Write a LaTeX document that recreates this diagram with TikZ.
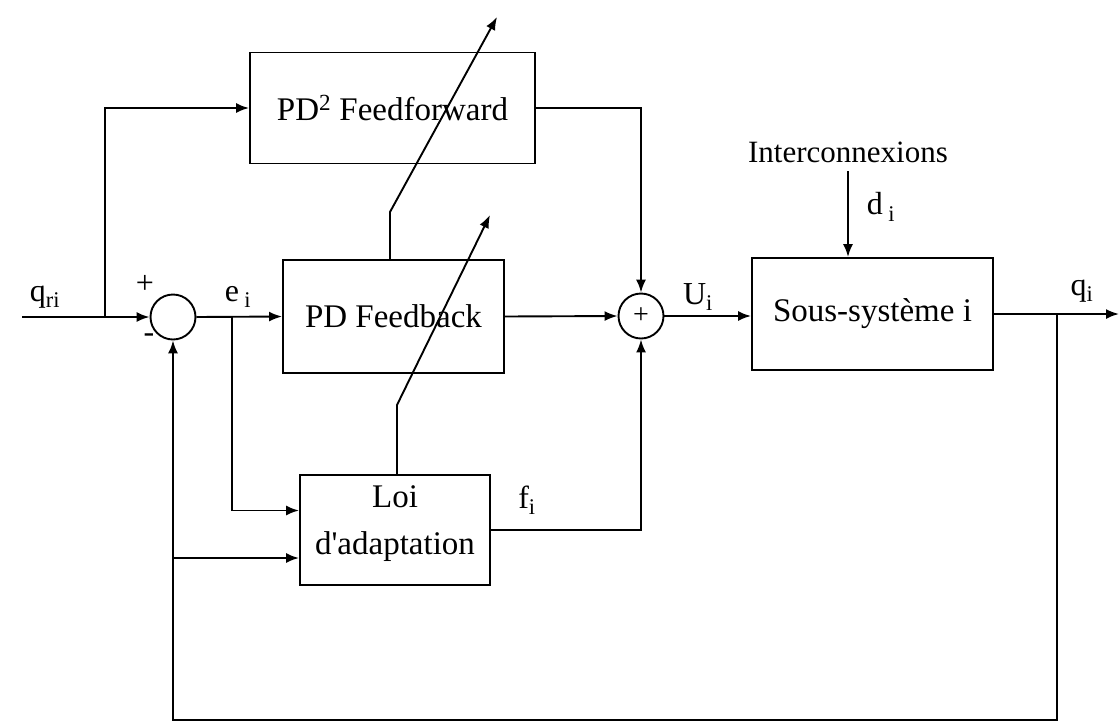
\documentclass[tikz,border=0pt]{standalone}
\usepackage{fontspec}
\setmainfont{Liberation Serif}
\usetikzlibrary{arrows.meta}
\begin{document}
\begin{tikzpicture}[x=1pt,y=-1pt, line width=1.9pt,
  >={Latex[length=13pt,width=10pt]},
  blk/.style={draw, rectangle, inner sep=0pt, font=\fontsize{33}{47}\selectfont, align=center},
  sumc/.style={draw, circle, minimum size=45pt, inner sep=0pt, font=\fontsize{28}{30}\selectfont},
  lbl/.style={font=\fontsize{32}{38}\selectfont, inner sep=0pt}]
\useasboundingbox (0,0) rectangle (1119,724);

% blocks
\node[blk, minimum width=285pt, minimum height=111pt] (ff) at (392.5,108) {PD\textsuperscript{2} Feedforward};
\node[blk, minimum width=221pt, minimum height=113pt] (fb) at (393.5,316.5) {PD Feedback};
\node[blk, minimum width=190pt, minimum height=110pt,
  label={[font=\fontsize{33}{47}\selectfont, align=center, inner sep=0pt, yshift=6pt]center:{Loi\\d\textquotesingle adaptation}}] (loi) at (395,530) {};
\node[blk, minimum width=241pt, minimum height=112pt] (sys) at (872.5,314) {Sous-système i};

% summing junctions
\node[sumc] (s1) at (173,317) {};
\node[sumc] (s2) at (641,316) {+};

% labels
\node[lbl] (qri) at (45,297) {q\textsubscript{ri}};
\node[lbl] (plus) at (145,284) {+};
\node[lbl] (minus) at (149,338) {-};
\node[lbl] (ei) at (238,297) {e\,\textsubscript{i}};
\node[lbl] (fi) at (527,500) {f\textsubscript{i}};
\node[lbl] (ui) at (698,297) {U\textsubscript{i}};
\node[lbl] (di) at (881,207) {d\,\textsubscript{i}};
\node[lbl] (qi) at (1082,291) {q\textsubscript{i}};
\node[font=\fontsize{31}{36}\selectfont, inner sep=0pt] (inter) at (848,152) {Interconnexions};

% coordinates
\coordinate (in) at (22,317);
\coordinate (b1) at (105,317);
\coordinate (b2) at (232,317);
\coordinate (b3) at (1057,314);
\coordinate (out) at (1119,314);
\coordinate (c1) at (1057,720);
\coordinate (b4) at (173,558);
\coordinate (k1) at (390,212);
\coordinate (tip1) at (497,17);
\coordinate (k2) at (397,405);
\coordinate (tip2) at (490,215);
\coordinate (l1) at ([yshift=19.5pt]loi.west);
\coordinate (l2) at ([yshift=-28pt]loi.west);

% connectors
\draw[->] (in) -- (s1.west);
\draw[->] (b1) |- (ff.west);
\draw[->] (s1.east) -- (fb.west);
\draw[->] (b2) |- (l1);
\draw[->] (ff.east) -| (s2.north);
\draw[->] (fb.east) -- (s2.west);
\draw[->] (loi.east) -| (s2.south);
\draw[->] (s2.east) -- (s2.east -| sys.west);
\draw[->] (inter.south) ++(0,8) -- (inter.south |- sys.north);
\draw[->] (sys.east |- b3) -- (out);
\draw[->] (b3) -- (c1) -| (s1.south);
\draw[->] (b4) -- (l2);
\draw[->] (k1 |- fb.north) -- (k1) -- (tip1);
\draw[->] (k2 |- loi.north) -- (k2) -- (tip2);
\end{tikzpicture}
\end{document}
